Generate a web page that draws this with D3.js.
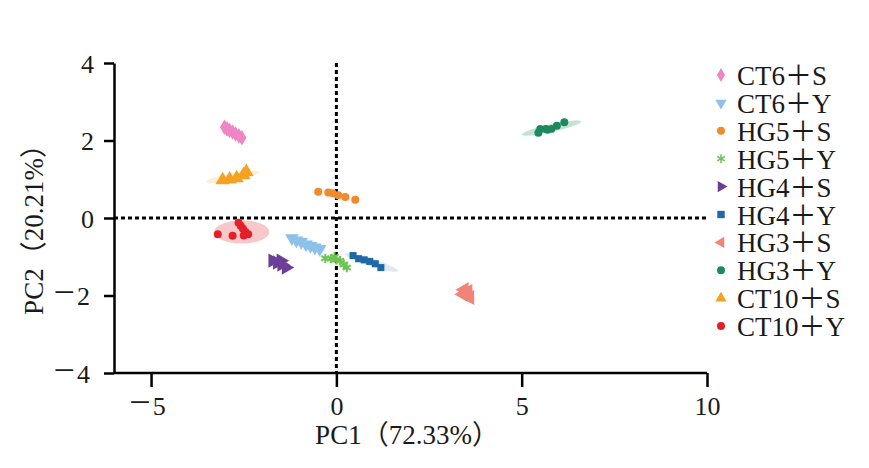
<!DOCTYPE html>
<html><head><meta charset="utf-8">
<script src="https://cdn.jsdelivr.net/npm/d3@7"></script>
<style>body{margin:0;background:#fff}svg{display:block}text{font-family:"Liberation Serif","Times New Roman","Noto Sans CJK SC",serif;fill:#1a1a1a}</style>
</head><body><svg id="c" width="869" height="468"></svg>
<script>
const groups = ["CT6＋S","CT6＋Y","HG5＋S","HG5＋Y","HG4＋S","HG4＋Y","HG3＋S","HG3＋Y","CT10＋S","CT10＋Y"];
const colors = ["#ee85c4","#8ec1ea","#f08a2e","#6cc552","#6b3f98","#1f6aa5","#f08577","#1c8a5b","#f5a122","#e51f2a"];
const shapes = ["diamond","tdown","circle","star","tright","square","tleft","circle","tup","circle"];
const xTicks = [-5,0,5,10];
const yTicks = [-4,-2,0,2,4];
// scores per group [PC1, PC2]
const ct6s = [[-3.02,2.34],[-2.95,2.30],[-2.88,2.26],[-2.80,2.22],[-2.72,2.17],[-2.63,2.12],[-2.55,2.07]];
const ct6y = [[-1.2,-0.52],[-1.08,-0.58],[-0.95,-0.62],[-0.82,-0.68],[-0.7,-0.72],[-0.58,-0.76],[-0.45,-0.8]];
const hg5s = [[-0.49,0.68],[-0.22,0.66],[-0.1,0.64],[0.05,0.59],[0.24,0.54],[0.51,0.47]];
const hg5y = [[-0.3,-1.04],[-0.15,-1.05],[-0.05,-1.0],[0.0,-1.08],[0.1,-1.1],[0.2,-1.2],[0.28,-1.28]];
const hg4s = [[-1.72,-1.1],[-1.6,-1.15],[-1.5,-1.1],[-1.48,-1.2],[-1.36,-1.28]];
const hg4y = [[0.45,-0.97],[0.6,-1.05],[0.75,-1.08],[0.9,-1.12],[1.05,-1.18],[1.2,-1.28]];
const hg3s = [[3.45,-1.85],[3.55,-1.9],[3.42,-1.97],[3.5,-2.0],[3.6,-2.05]];
const hg3y = [[5.45,2.2],[5.5,2.3],[5.65,2.3],[5.7,2.28],[5.8,2.3],[5.95,2.38],[6.15,2.47]];
const ct10s = [[-3.07,0.98],[-2.88,1.0],[-2.69,1.03],[-2.51,1.11],[-2.43,1.19]];
const ct10y = [[-3.2,-0.42],[-2.8,-0.46],[-2.64,-0.12],[-2.58,-0.2],[-2.52,-0.28],[-2.45,-0.36],[-2.38,-0.42],[-2.5,-0.45]];
const scores = [ct6s,ct6y,hg5s,hg5y,hg4s,hg4y,hg3s,hg3y,ct10s,ct10y];
// confidence ellipses: [centerX, centerY, semiMajor, semiMinor (data units), angle deg in data space]
const ellipses = [[-2.78,2.2,0.42,0.12,-30],[-0.8,-0.66,0.55,0.14,-22],[0.0,0.58,0.7,0.12,-8],[0.0,-1.13,0.45,0.12,-12],[-1.55,-1.18,0.3,0.1,-25],[0.95,-1.15,0.75,0.1,-17],[3.5,-1.95,0.18,0.12,-30],[5.8,2.32,0.82,0.1,12],[-2.8,1.06,0.72,0.1,10],[-2.55,-0.36,0.74,0.3,0]];
const ellipseOpacity = [0.1,0.15,0.06,0.08,0.06,0.15,0.06,0.25,0.18,0.25];

const svg = d3.select("#c");
const x = d3.scaleLinear().domain([-6,10]).range([114,707]);
const y = d3.scaleLinear().domain([-4,4]).range([373,63]);

const line = d3.line().x(d=>x(d[0])).y(d=>y(d[1])).curve(d3.curveLinearClosed);
ellipses.forEach((e,i)=>{
  const [cx,cy,a,b,ang] = e; const th = ang*Math.PI/180;
  const pts = d3.range(0,72).map(k=>{const t=k/72*2*Math.PI;
    return [cx + a*Math.cos(t)*Math.cos(th) - b*Math.sin(t)*Math.sin(th), cy + a*Math.cos(t)*Math.sin(th) + b*Math.sin(t)*Math.cos(th)];});
  svg.append("path").attr("d",line(pts)).attr("fill",colors[i]).attr("fill-opacity",ellipseOpacity[i]);
});

svg.append("line").attr("x1",x(0)).attr("x2",x(0)).attr("y1",y(4)).attr("y2",y(-4))
  .attr("stroke","#000").attr("stroke-width",3).attr("stroke-dasharray","4,3");
svg.append("line").attr("x1",x(-6)).attr("x2",x(10)).attr("y1",y(0)).attr("y2",y(0))
  .attr("stroke","#000").attr("stroke-width",3).attr("stroke-dasharray","4,3");

function sym(s){
  const m = {diamond:d3.symbolDiamond,circle:d3.symbolCircle,square:d3.symbolSquare,star:d3.symbolAsterisk,tup:d3.symbolTriangle,tdown:d3.symbolTriangle,tleft:d3.symbolTriangle,tright:d3.symbolTriangle};
  return m[s];
}
const rot = {tdown:180,tleft:-90,tright:90};
const sizes = {diamond:70,circle:50,square:50,star:60,tup:90,tdown:80,tleft:100,tright:90};

scores.forEach((pts,i)=>{
  const s = shapes[i];
  svg.append("g").selectAll("path").data(pts).join("path")
    .attr("d",d3.symbol(sym(s),sizes[s]))
    .attr("transform",d=>`translate(${x(d[0])},${y(d[1])}) rotate(${rot[s]||0})`)
    .attr("fill",colors[i]).attr("stroke",s==="star"?colors[i]:"none").attr("stroke-width",2);
});

function fmtTick(sel){
  sel.each(function(d){
    const t = d3.select(this); t.text(null);
    if (d<0) t.append("tspan").attr("font-size",38).attr("dx",-4).text("−");
    t.append("tspan").attr("dx",d<0?2:0).text(Math.abs(d));
  });
}
const xa = svg.append("g").attr("transform",`translate(0,${y(-4)})`)
  .call(d3.axisBottom(x).tickValues(xTicks).tickSize(14).tickSizeOuter(0));
const ya = svg.append("g").attr("transform",`translate(${x(-6)},0)`)
  .call(d3.axisLeft(y).tickValues(yTicks).tickSize(10).tickSizeOuter(0));
[xa,ya].forEach(g=>{g.select(".domain").attr("stroke","#000").attr("stroke-width",2.5);
  g.selectAll(".tick line").attr("stroke","#000").attr("stroke-width",2.5);
  g.selectAll(".tick text").attr("font-size",26).attr("fill","#1a1a1a")
   .attr("font-family",'"Liberation Serif","Noto Sans CJK SC",serif').call(fmtTick);});
xa.selectAll(".tick text").attr("dy",null).attr("y",42);
xa.select(".domain").attr("d",`M${x(-6)},0H${x(10)}`);
ya.selectAll(".tick text").attr("x",-20).attr("dy",null).attr("y",9);

svg.append("text").attr("x",407).attr("y",444).attr("text-anchor","middle").attr("font-size",27).text("PC1（72.33%）");
svg.append("text").attr("transform","translate(43,223) rotate(-90)").attr("text-anchor","middle").attr("font-size",27).text("PC2（20.21%）");

const lg = svg.append("g");
groups.forEach((g,i)=>{
  const yy = 75 + i*27.9, s = shapes[i];
  lg.append("path").attr("d",d3.symbol(sym(s),s==="circle"?50:55))
    .attr("transform",`translate(721,${yy}) rotate(${rot[s]||0})`)
    .attr("fill",colors[i]).attr("stroke",s==="star"?colors[i]:"none").attr("stroke-width",1.5);
  lg.append("text").attr("x",737).attr("y",yy+10).attr("font-size",27).text(g);
});
</script></body></html>
